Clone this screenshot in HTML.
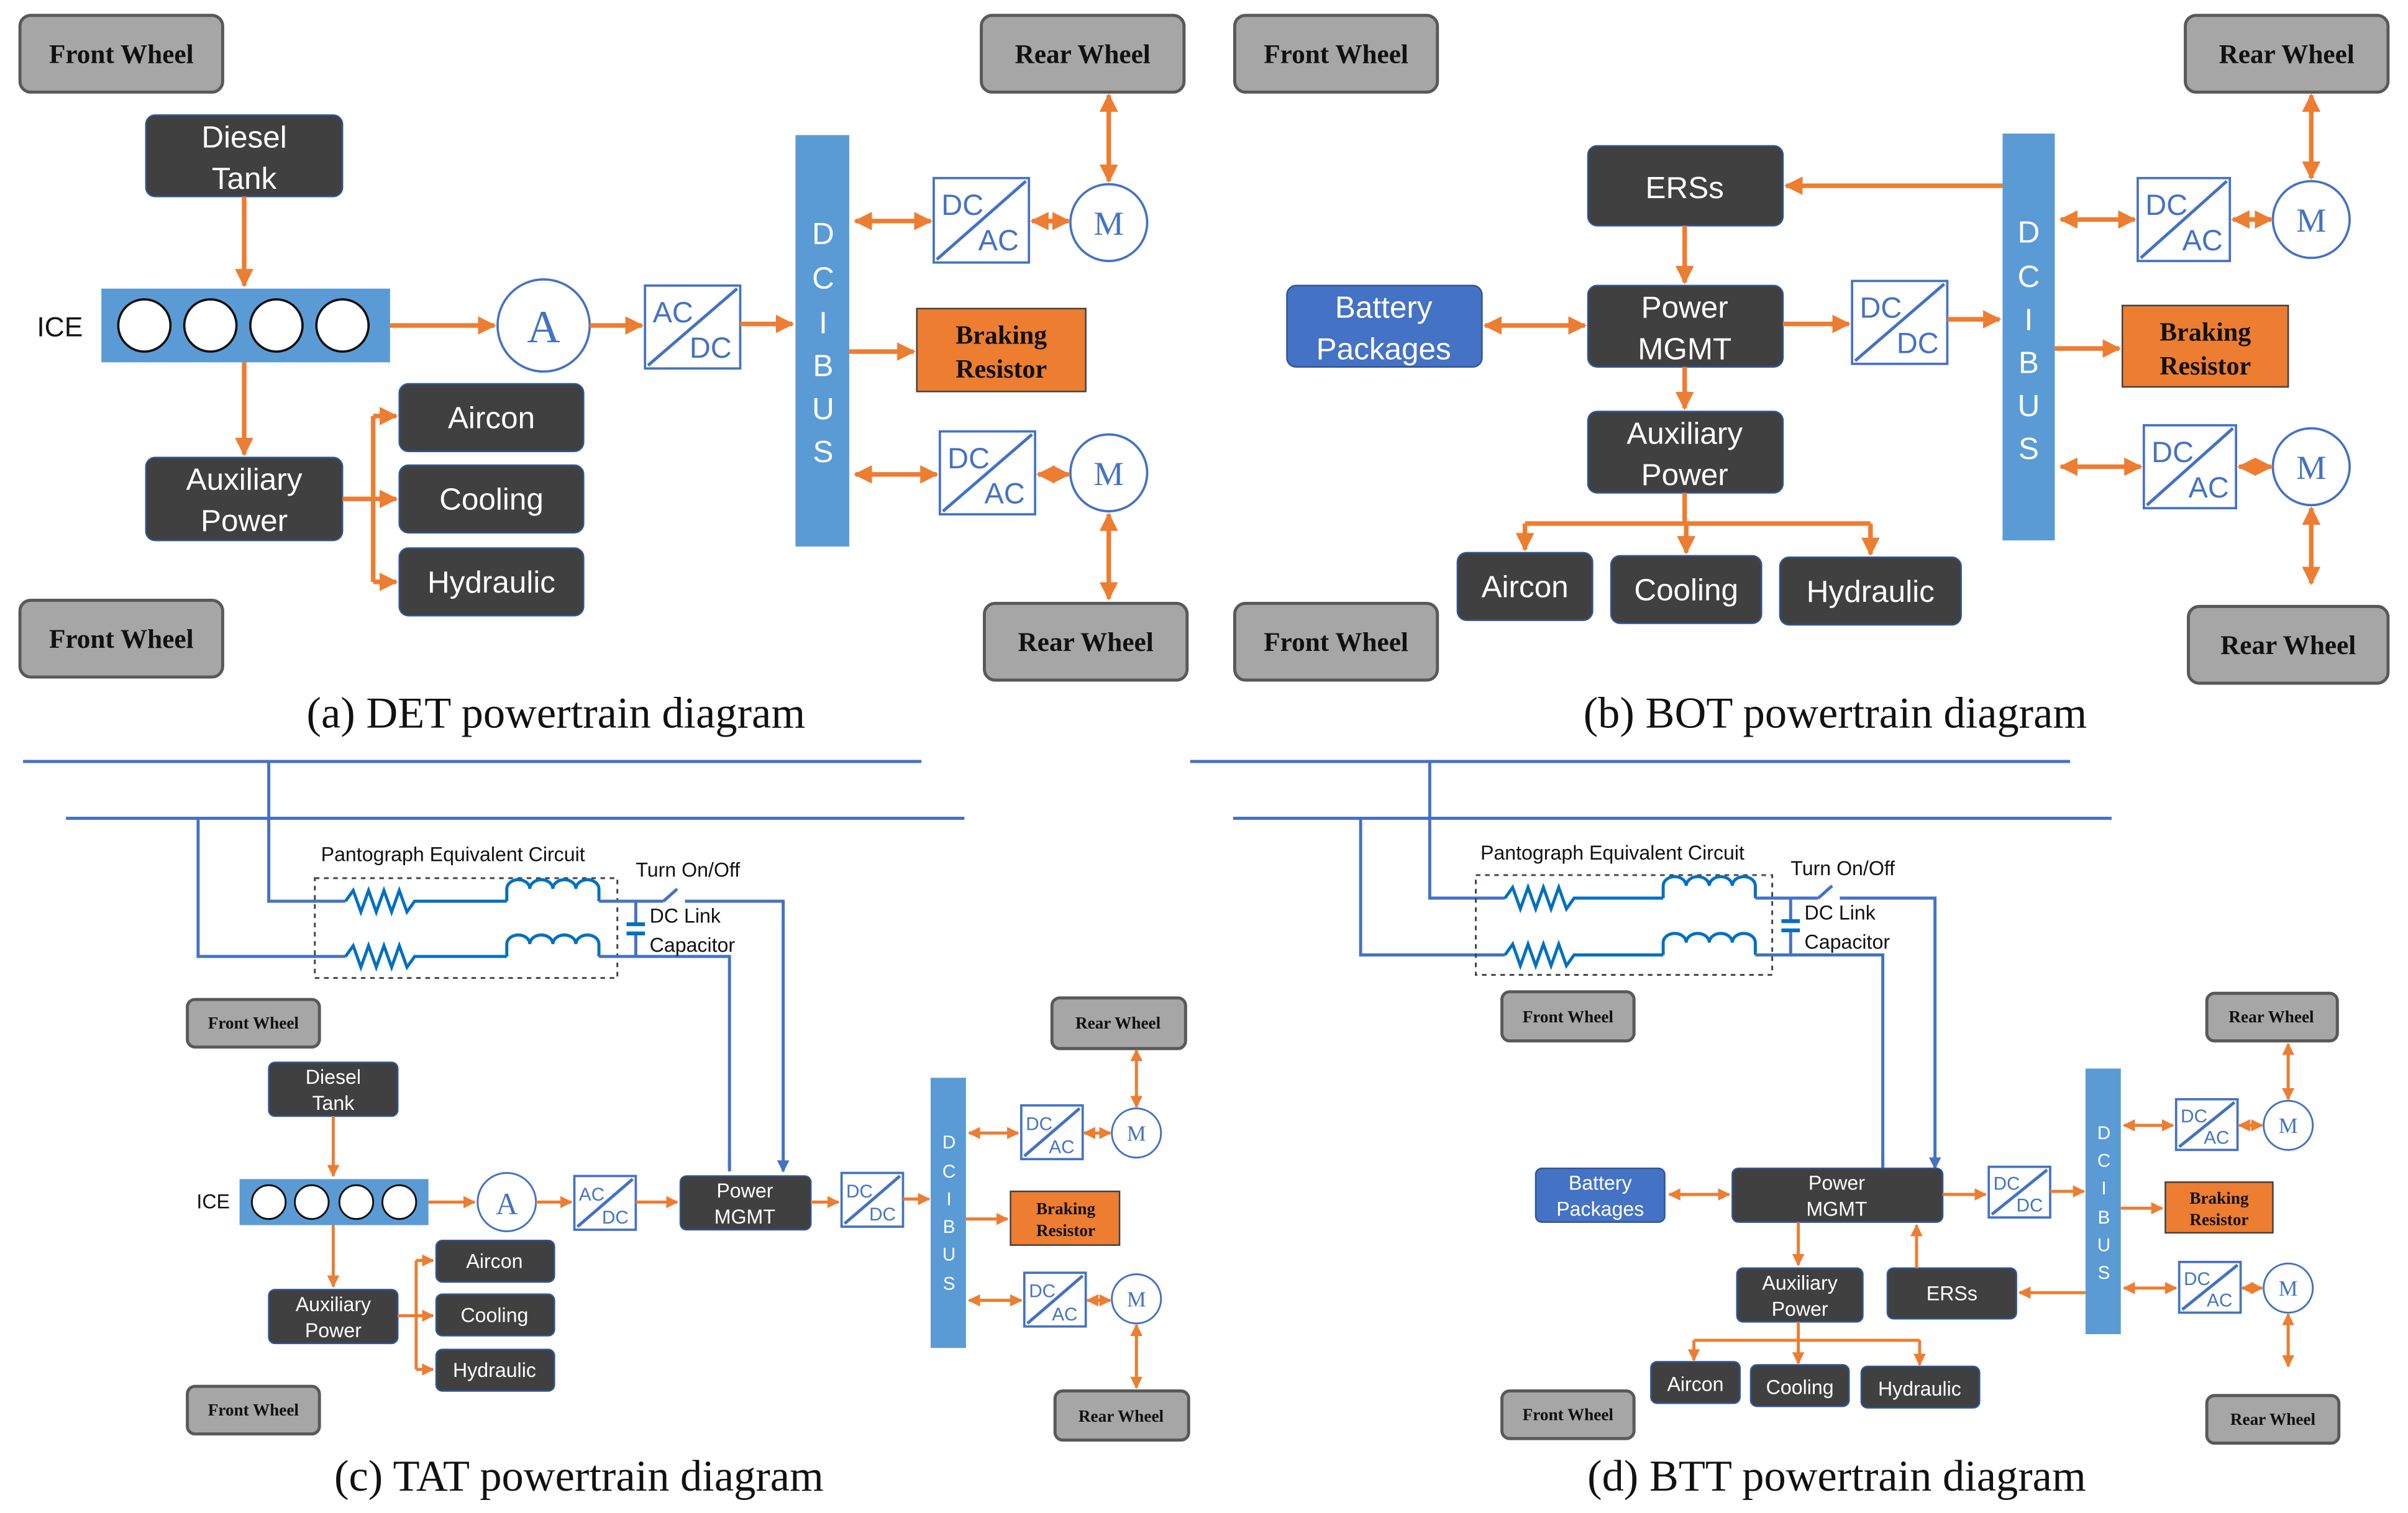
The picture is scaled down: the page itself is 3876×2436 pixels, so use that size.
<!DOCTYPE html>
<html><head><meta charset="utf-8">
<style>
html,body{margin:0;padding:0;background:#fff;}
svg{display:block;}
.gw{fill:#a6a6a6;stroke:#595959;stroke-width:2;}
.dk{fill:#404040;stroke:#2f5597;stroke-width:1;}
.bp{fill:#4472c4;stroke:#2f5597;stroke-width:1;}
.br{fill:#ed7d31;stroke:#404040;stroke-width:1;}
.bus{fill:#5b9bd5;}
.cv{fill:#fff;stroke:#4472c4;stroke-width:1.5;}
.or{stroke:#ed7d31;stroke-width:3;fill:none;}
.ors{stroke:#ed7d31;stroke-width:2;fill:none;}
.bl{stroke:#4472c4;stroke-width:2;fill:none;}
.el{stroke:#0070c0;stroke-width:2;fill:none;}
.wt{font-family:"Times New Roman","Liberation Serif",serif;font-weight:bold;fill:#111;text-anchor:middle;}
.st{font-family:"Liberation Sans",sans-serif;fill:#fff;text-anchor:middle;}
.ct{font-family:"Liberation Serif",serif;fill:#111;text-anchor:middle;}
.cvt{font-family:"Liberation Sans",sans-serif;fill:#4472c4;}
.lb{font-family:"Liberation Sans",sans-serif;fill:#111;}
</style></head><body>
<svg width="3876" height="2436" viewBox="0 0 1568 985.5" preserveAspectRatio="none" xmlns="http://www.w3.org/2000/svg">
<defs>
<marker id="a" viewBox="0 0 10 10" refX="9" refY="5" markerWidth="4" markerHeight="4" orient="auto-start-reverse"><path d="M0,0L10,5L0,10z" fill="#ed7d31"/></marker>
<marker id="s" viewBox="0 0 10 10" refX="9" refY="5" markerWidth="4" markerHeight="4" orient="auto-start-reverse"><path d="M0,0L10,5L0,10z" fill="#ed7d31"/></marker>
<marker id="bb" viewBox="0 0 10 10" refX="9" refY="5" markerWidth="4" markerHeight="4" orient="auto"><path d="M0,0L10,5L0,10z" fill="#4472c4"/></marker>
</defs>

<!-- ================= (a) ================= -->
<rect class="gw" x="13" y="10" width="132" height="50" rx="7"/><text class="wt" x="79" y="41" font-size="17.5">Front Wheel</text>
<rect class="gw" x="13" y="391" width="132" height="50" rx="7"/><text class="wt" x="79" y="422" font-size="17.5">Front Wheel</text>
<rect class="gw" x="639" y="10" width="132" height="50" rx="7"/><text class="wt" x="705" y="41" font-size="17.5">Rear Wheel</text>
<rect class="gw" x="641" y="393" width="132" height="50" rx="7"/><text class="wt" x="707" y="424" font-size="17.5">Rear Wheel</text>
<rect class="dk" x="95" y="75" width="128" height="53" rx="6"/><text class="st" x="159" y="96" font-size="20">Diesel</text><text class="st" x="159" y="123" font-size="20">Tank</text>
<text class="lb" x="24" y="219" font-size="18">ICE</text>
<rect fill="#5b9bd5" x="66" y="188" width="188" height="48"/>
<g fill="#fff" stroke="#111" stroke-width="1.5"><circle cx="94" cy="212" r="17"/><circle cx="137" cy="212" r="17"/><circle cx="180" cy="212" r="17"/><circle cx="223" cy="212" r="17"/></g>
<line class="or" x1="159" y1="128" x2="159" y2="186" marker-end="url(#a)"/>
<line class="or" x1="254" y1="212" x2="322" y2="212" marker-end="url(#a)"/>
<circle cx="354" cy="212" r="30" fill="#fff" stroke="#4472c4" stroke-width="1.5"/><text x="354" y="223" font-size="30" font-family="Liberation Serif,serif" fill="#4472c4" text-anchor="middle">A</text>
<line class="or" x1="384" y1="212" x2="418" y2="212" marker-end="url(#a)"/>
<rect class="cv" x="420" y="186" width="62" height="54"/><line class="bl" x1="422" y1="238" x2="480" y2="188" stroke-width="1.5"/><text class="cvt" x="425" y="210" font-size="19">AC</text><text class="cvt" x="449" y="233" font-size="19">DC</text>
<line class="or" x1="482" y1="211" x2="516" y2="211" marker-end="url(#a)"/>
<rect class="bus" x="518" y="88" width="35" height="268"/>
<g class="st" font-size="20"><text x="536" y="159">D</text><text x="536" y="188">C</text><text x="536" y="217">I</text><text x="536" y="245">B</text><text x="536" y="273">U</text><text x="536" y="301">S</text></g>
<rect class="br" x="597" y="201" width="110" height="54"/><text class="wt" x="652" y="224" font-size="17">Braking</text><text class="wt" x="652" y="246" font-size="17">Resistor</text>
<line class="or" x1="553" y1="229" x2="595" y2="229" marker-end="url(#a)"/>
<rect class="cv" x="608" y="116" width="62" height="55"/><line class="bl" x1="610" y1="169" x2="668" y2="118" stroke-width="1.5"/><text class="cvt" x="613" y="140" font-size="19">DC</text><text class="cvt" x="637" y="163" font-size="19">AC</text>
<line class="or" x1="557" y1="144" x2="606" y2="144" marker-start="url(#a)" marker-end="url(#a)"/>
<circle cx="722" cy="145" r="25" fill="#fff" stroke="#4472c4" stroke-width="1.5"/><text x="722" y="153" font-size="22" font-family="Liberation Serif,serif" fill="#4472c4" text-anchor="middle">M</text>
<line class="or" x1="672" y1="144" x2="696" y2="144" marker-start="url(#a)" marker-end="url(#a)"/>
<line class="or" x1="722" y1="62" x2="722" y2="118" marker-start="url(#a)" marker-end="url(#a)"/>
<rect class="cv" x="612" y="281" width="62" height="54"/><line class="bl" x1="614" y1="333" x2="672" y2="283" stroke-width="1.5"/><text class="cvt" x="617" y="305" font-size="19">DC</text><text class="cvt" x="641" y="328" font-size="19">AC</text>
<line class="or" x1="557" y1="309" x2="610" y2="309" marker-start="url(#a)" marker-end="url(#a)"/>
<circle cx="722" cy="308" r="25" fill="#fff" stroke="#4472c4" stroke-width="1.5"/><text x="722" y="316" font-size="22" font-family="Liberation Serif,serif" fill="#4472c4" text-anchor="middle">M</text>
<line class="or" x1="676" y1="309" x2="696" y2="309" marker-start="url(#a)" marker-end="url(#a)"/>
<line class="or" x1="722" y1="335" x2="722" y2="390" marker-start="url(#a)" marker-end="url(#a)"/>
<rect class="dk" x="95" y="298" width="128" height="54" rx="6"/><text class="st" x="159" y="319" font-size="20">Auxiliary</text><text class="st" x="159" y="346" font-size="20">Power</text>
<line class="or" x1="159" y1="236" x2="159" y2="296" marker-end="url(#a)"/>
<rect class="dk" x="260" y="250" width="120" height="44" rx="6"/><text class="st" x="320" y="279" font-size="20">Aircon</text>
<rect class="dk" x="260" y="303" width="120" height="44" rx="6"/><text class="st" x="320" y="332" font-size="20">Cooling</text>
<rect class="dk" x="260" y="357" width="120" height="44" rx="6"/><text class="st" x="320" y="386" font-size="20">Hydraulic</text>
<path class="or" d="M223,325H243M243,271V379"/>
<line class="or" x1="243" y1="271" x2="258" y2="271" marker-end="url(#a)"/>
<line class="or" x1="243" y1="325" x2="258" y2="325" marker-end="url(#a)"/>
<line class="or" x1="243" y1="379" x2="258" y2="379" marker-end="url(#a)"/>
<text class="ct" x="362" y="474" font-size="28.5">(a) DET powertrain diagram</text>

<!-- ================= (b) ================= -->
<rect class="gw" x="804" y="10" width="132" height="50" rx="7"/><text class="wt" x="870" y="41" font-size="17.5">Front Wheel</text>
<rect class="gw" x="804" y="393" width="132" height="50" rx="7"/><text class="wt" x="870" y="424" font-size="17.5">Front Wheel</text>
<rect class="gw" x="1423" y="10" width="132" height="50" rx="7"/><text class="wt" x="1489" y="41" font-size="17.5">Rear Wheel</text>
<rect class="gw" x="1425" y="395" width="130" height="50" rx="7"/><text class="wt" x="1490" y="426" font-size="17.5">Rear Wheel</text>
<rect class="dk" x="1034" y="95" width="127" height="52" rx="6"/><text class="st" x="1097" y="129" font-size="20">ERSs</text>
<rect class="dk" x="1034" y="186" width="127" height="53" rx="6"/><text class="st" x="1097" y="207" font-size="20">Power</text><text class="st" x="1097" y="234" font-size="20">MGMT</text>
<rect class="bp" x="838" y="186" width="127" height="53" rx="6"/><text class="st" x="901" y="207" font-size="20">Battery</text><text class="st" x="901" y="234" font-size="20">Packages</text>
<line class="or" x1="967" y1="212" x2="1032" y2="212" marker-start="url(#a)" marker-end="url(#a)"/>
<line class="or" x1="1097" y1="147" x2="1097" y2="184" marker-end="url(#a)"/>
<rect class="dk" x="1034" y="268" width="127" height="53" rx="6"/><text class="st" x="1097" y="289" font-size="20">Auxiliary</text><text class="st" x="1097" y="316" font-size="20">Power</text>
<line class="or" x1="1097" y1="239" x2="1097" y2="266" marker-end="url(#a)"/>
<rect class="cv" x="1206" y="183" width="62" height="54"/><line class="bl" x1="1208" y1="235" x2="1266" y2="185" stroke-width="1.5"/><text class="cvt" x="1211" y="207" font-size="19">DC</text><text class="cvt" x="1235" y="230" font-size="19">DC</text>
<line class="or" x1="1161" y1="211" x2="1204" y2="211" marker-end="url(#a)"/>
<line class="or" x1="1268" y1="208" x2="1302" y2="208" marker-end="url(#a)"/>
<rect class="bus" x="1304" y="87" width="34" height="265"/>
<g class="st" font-size="20"><text x="1321" y="158">D</text><text x="1321" y="187">C</text><text x="1321" y="215">I</text><text x="1321" y="243">B</text><text x="1321" y="271">U</text><text x="1321" y="299">S</text></g>
<line class="or" x1="1304" y1="121" x2="1163" y2="121" marker-end="url(#a)"/>
<rect class="br" x="1382" y="199" width="108" height="53"/><text class="wt" x="1436" y="222" font-size="17">Braking</text><text class="wt" x="1436" y="244" font-size="17">Resistor</text>
<line class="or" x1="1338" y1="227" x2="1380" y2="227" marker-end="url(#a)"/>
<rect class="cv" x="1392" y="116" width="60" height="54"/><line class="bl" x1="1394" y1="168" x2="1450" y2="118" stroke-width="1.5"/><text class="cvt" x="1397" y="140" font-size="19">DC</text><text class="cvt" x="1421" y="163" font-size="19">AC</text>
<line class="or" x1="1342" y1="143" x2="1390" y2="143" marker-start="url(#a)" marker-end="url(#a)"/>
<circle cx="1505" cy="143" r="25" fill="#fff" stroke="#4472c4" stroke-width="1.5"/><text x="1505" y="151" font-size="22" font-family="Liberation Serif,serif" fill="#4472c4" text-anchor="middle">M</text>
<line class="or" x1="1454" y1="143" x2="1479" y2="143" marker-start="url(#a)" marker-end="url(#a)"/>
<line class="or" x1="1505" y1="62" x2="1505" y2="116" marker-start="url(#a)" marker-end="url(#a)"/>
<rect class="cv" x="1396" y="277" width="60" height="54"/><line class="bl" x1="1398" y1="329" x2="1454" y2="279" stroke-width="1.5"/><text class="cvt" x="1401" y="301" font-size="19">DC</text><text class="cvt" x="1425" y="324" font-size="19">AC</text>
<line class="or" x1="1342" y1="304" x2="1394" y2="304" marker-start="url(#a)" marker-end="url(#a)"/>
<circle cx="1505" cy="304" r="25" fill="#fff" stroke="#4472c4" stroke-width="1.5"/><text x="1505" y="312" font-size="22" font-family="Liberation Serif,serif" fill="#4472c4" text-anchor="middle">M</text>
<line class="or" x1="1458" y1="304" x2="1479" y2="304" marker-start="url(#a)" marker-end="url(#a)"/>
<line class="or" x1="1505" y1="331" x2="1505" y2="380" marker-start="url(#a)" marker-end="url(#a)"/>
<rect class="dk" x="949" y="360" width="88" height="44" rx="6"/><text class="st" x="993" y="389" font-size="20">Aircon</text>
<rect class="dk" x="1049" y="362" width="98" height="44" rx="6"/><text class="st" x="1098" y="391" font-size="20">Cooling</text>
<rect class="dk" x="1159" y="363" width="118" height="44" rx="6"/><text class="st" x="1218" y="392" font-size="20">Hydraulic</text>
<path class="or" d="M1097,321V341M993,341H1218"/>
<line class="or" x1="993" y1="341" x2="993" y2="358" marker-end="url(#a)"/>
<line class="or" x1="1098" y1="341" x2="1098" y2="360" marker-end="url(#a)"/>
<line class="or" x1="1218" y1="341" x2="1218" y2="361" marker-end="url(#a)"/>
<text class="ct" x="1195" y="474" font-size="28.5">(b) BOT powertrain diagram</text>

<!-- ================= (c) ================= -->
<path class="bl" d="M15,496H600M43,533H628"/>
<path class="bl" d="M175,496V587H225M129,533V623H225"/>
<rect x="205" y="572" width="197" height="65" fill="none" stroke="#444" stroke-width="1.2" stroke-dasharray="3,3"/>
<path class="el" d="M225,587l5,-7l5,14l5,-14l5,14l5,-14l5,14l5,-14l5,14l5,-7H330"/>
<path class="el" d="M225,623l5,-7l5,14l5,-14l5,14l5,-14l5,14l5,-14l5,14l5,-7H330"/>
<path class="el" stroke-width="3" d="M330,587v-8a7.5,6 0 0 1 15,0a7.5,6 0 0 1 15,0a7.5,6 0 0 1 15,0a7.5,6 0 0 1 15,0v8"/>
<path class="el" stroke-width="3" d="M330,623v-8a7.5,6 0 0 1 15,0a7.5,6 0 0 1 15,0a7.5,6 0 0 1 15,0a7.5,6 0 0 1 15,0v8"/>
<path class="bl" d="M390,587H432M446,587H510V761M390,623H475V761"/>
<path class="bl" d="M432,587L441,579"/>
<path class="bl" d="M414,587V602M414,608V623"/>
<path d="M408,602H420M408,608H420" stroke="#0070c0" stroke-width="2.5"/>
<path d="M475,755v8M510,755v8" stroke="#4472c4" stroke-width="2" marker-end="url(#bb)"/>
<text class="lb" x="209" y="561" font-size="13">Pantograph Equivalent Circuit</text>
<text class="lb" x="414" y="571" font-size="13">Turn On/Off</text>
<text class="lb" x="423" y="601" font-size="13">DC Link</text>
<text class="lb" x="423" y="620" font-size="13">Capacitor</text>
<rect class="gw" x="122" y="651" width="86" height="31" rx="5" stroke-width="1.5"/><text class="wt" x="165" y="670" font-size="11">Front Wheel</text>
<rect class="gw" x="122" y="903" width="86" height="31" rx="5" stroke-width="1.5"/><text class="wt" x="165" y="922" font-size="11">Front Wheel</text>
<rect class="gw" x="685" y="650" width="87" height="33" rx="5" stroke-width="1.5"/><text class="wt" x="728" y="670" font-size="11">Rear Wheel</text>
<rect class="gw" x="687" y="906" width="87" height="32" rx="5" stroke-width="1.5"/><text class="wt" x="730" y="926" font-size="11">Rear Wheel</text>
<rect class="dk" x="175" y="692" width="84" height="35" rx="4"/><text class="st" x="217" y="706" font-size="13">Diesel</text><text class="st" x="217" y="723" font-size="13">Tank</text>
<text class="lb" x="128" y="787" font-size="13">ICE</text>
<rect fill="#5b9bd5" x="156" y="768" width="123" height="30"/>
<g fill="#fff" stroke="#111" stroke-width="1.2"><circle cx="175" cy="783" r="11"/><circle cx="203" cy="783" r="11"/><circle cx="232" cy="783" r="11"/><circle cx="260" cy="783" r="11"/></g>
<line class="ors" x1="217" y1="727" x2="217" y2="766" marker-end="url(#s)"/>
<line class="ors" x1="279" y1="783" x2="309" y2="783" marker-end="url(#s)"/>
<circle cx="330" cy="783" r="19" fill="#fff" stroke="#4472c4" stroke-width="1.2"/><text x="330" y="791" font-size="20" font-family="Liberation Serif,serif" fill="#4472c4" text-anchor="middle">A</text>
<line class="ors" x1="349" y1="783" x2="372" y2="783" marker-end="url(#s)"/>
<rect class="cv" x="374" y="766" width="40" height="35" stroke-width="1.2"/><line class="bl" x1="376" y1="799" x2="412" y2="768" stroke-width="1"/><text class="cvt" x="377" y="782" font-size="12">AC</text><text class="cvt" x="392" y="797" font-size="12">DC</text>
<line class="ors" x1="414" y1="783" x2="441" y2="783" marker-end="url(#s)"/>
<rect class="dk" x="443" y="766" width="85" height="35" rx="4"/><text class="st" x="485" y="780" font-size="13">Power</text><text class="st" x="485" y="797" font-size="13">MGMT</text>
<line class="ors" x1="528" y1="783" x2="546" y2="783" marker-end="url(#s)"/>
<rect class="cv" x="548" y="764" width="40" height="35" stroke-width="1.2"/><line class="bl" x1="550" y1="797" x2="586" y2="766" stroke-width="1"/><text class="cvt" x="551" y="780" font-size="12">DC</text><text class="cvt" x="566" y="795" font-size="12">DC</text>
<line class="ors" x1="588" y1="781" x2="605" y2="781" marker-end="url(#s)"/>
<rect class="bus" x="606" y="702" width="23" height="176"/>
<g class="st" font-size="12"><text x="618" y="748">D</text><text x="618" y="767">C</text><text x="618" y="785">I</text><text x="618" y="803">B</text><text x="618" y="821">U</text><text x="618" y="840">S</text></g>
<rect class="br" x="658" y="776" width="71" height="35"/><text class="wt" x="694" y="791" font-size="11">Braking</text><text class="wt" x="694" y="805" font-size="11">Resistor</text>
<line class="ors" x1="629" y1="794" x2="656" y2="794" marker-end="url(#s)"/>
<rect class="cv" x="665" y="720" width="40" height="35" stroke-width="1.2"/><line class="bl" x1="667" y1="753" x2="703" y2="722" stroke-width="1"/><text class="cvt" x="668" y="736" font-size="12">DC</text><text class="cvt" x="683" y="751" font-size="12">AC</text>
<line class="ors" x1="631" y1="738" x2="663" y2="738" marker-start="url(#s)" marker-end="url(#s)"/>
<circle cx="740" cy="738" r="16" fill="#fff" stroke="#4472c4" stroke-width="1.2"/><text x="740" y="743" font-size="14" font-family="Liberation Serif,serif" fill="#4472c4" text-anchor="middle">M</text>
<line class="ors" x1="706" y1="738" x2="723" y2="738" marker-start="url(#s)" marker-end="url(#s)"/>
<line class="ors" x1="740" y1="684" x2="740" y2="721" marker-start="url(#s)" marker-end="url(#s)"/>
<rect class="cv" x="667" y="829" width="40" height="35" stroke-width="1.2"/><line class="bl" x1="669" y1="862" x2="705" y2="831" stroke-width="1"/><text class="cvt" x="670" y="845" font-size="12">DC</text><text class="cvt" x="685" y="860" font-size="12">AC</text>
<line class="ors" x1="631" y1="847" x2="665" y2="847" marker-start="url(#s)" marker-end="url(#s)"/>
<circle cx="740" cy="846" r="16" fill="#fff" stroke="#4472c4" stroke-width="1.2"/><text x="740" y="851" font-size="14" font-family="Liberation Serif,serif" fill="#4472c4" text-anchor="middle">M</text>
<line class="ors" x1="708" y1="847" x2="723" y2="847" marker-start="url(#s)" marker-end="url(#s)"/>
<line class="ors" x1="740" y1="863" x2="740" y2="904" marker-start="url(#s)" marker-end="url(#s)"/>
<rect class="dk" x="175" y="840" width="84" height="35" rx="4"/><text class="st" x="217" y="854" font-size="13">Auxiliary</text><text class="st" x="217" y="871" font-size="13">Power</text>
<line class="ors" x1="217" y1="798" x2="217" y2="838" marker-end="url(#s)"/>
<rect class="dk" x="284" y="808" width="77" height="27" rx="4"/><text class="st" x="322" y="826" font-size="13">Aircon</text>
<rect class="dk" x="284" y="843" width="77" height="27" rx="4"/><text class="st" x="322" y="861" font-size="13">Cooling</text>
<rect class="dk" x="284" y="879" width="77" height="27" rx="4"/><text class="st" x="322" y="897" font-size="13">Hydraulic</text>
<path class="ors" d="M259,857H271M271,821V892"/>
<line class="ors" x1="271" y1="821" x2="282" y2="821" marker-end="url(#s)"/>
<line class="ors" x1="271" y1="857" x2="282" y2="857" marker-end="url(#s)"/>
<line class="ors" x1="271" y1="892" x2="282" y2="892" marker-end="url(#s)"/>
<text class="ct" x="377" y="971" font-size="28.5">(c) TAT powertrain diagram</text>

<!-- ================= (d) ================= -->
<path class="bl" d="M775,496H1348M803,533H1375"/>
<path class="bl" d="M931,496V585H980M886,533V622H980"/>
<rect x="961" y="570" width="193" height="65" fill="none" stroke="#444" stroke-width="1.2" stroke-dasharray="3,3"/>
<path class="el" d="M980,585l5,-7l5,14l5,-14l5,14l5,-14l5,14l5,-14l5,14l5,-7H1083"/>
<path class="el" d="M980,622l5,-7l5,14l5,-14l5,14l5,-14l5,14l5,-14l5,14l5,-7H1083"/>
<path class="el" stroke-width="3" d="M1083,585v-8a7.5,6 0 0 1 15,0a7.5,6 0 0 1 15,0a7.5,6 0 0 1 15,0a7.5,6 0 0 1 15,0v8"/>
<path class="el" stroke-width="3" d="M1083,622v-8a7.5,6 0 0 1 15,0a7.5,6 0 0 1 15,0a7.5,6 0 0 1 15,0a7.5,6 0 0 1 15,0v8"/>
<path class="bl" d="M1143,585H1184M1198,585H1260V759M1143,622H1226V759"/>
<path class="bl" d="M1184,585L1193,577"/>
<path class="bl" d="M1166,585V600M1166,606V622"/>
<path d="M1160,600H1172M1160,606H1172" stroke="#0070c0" stroke-width="2.5"/>
<path d="M1226,753v8M1260,753v8" stroke="#4472c4" stroke-width="2" marker-end="url(#bb)"/>
<text class="lb" x="964" y="560" font-size="13">Pantograph Equivalent Circuit</text>
<text class="lb" x="1166" y="570" font-size="13">Turn On/Off</text>
<text class="lb" x="1175" y="599" font-size="13">DC Link</text>
<text class="lb" x="1175" y="618" font-size="13">Capacitor</text>
<rect class="gw" x="978" y="646" width="86" height="32" rx="5" stroke-width="1.5"/><text class="wt" x="1021" y="666" font-size="11">Front Wheel</text>
<rect class="gw" x="978" y="906" width="86" height="31" rx="5" stroke-width="1.5"/><text class="wt" x="1021" y="925" font-size="11">Front Wheel</text>
<rect class="gw" x="1437" y="647" width="85" height="31" rx="5" stroke-width="1.5"/><text class="wt" x="1479" y="666" font-size="11">Rear Wheel</text>
<rect class="gw" x="1437" y="909" width="86" height="31" rx="5" stroke-width="1.5"/><text class="wt" x="1480" y="928" font-size="11">Rear Wheel</text>
<rect class="bp" x="1000" y="761" width="84" height="35" rx="4"/><text class="st" x="1042" y="775" font-size="13">Battery</text><text class="st" x="1042" y="792" font-size="13">Packages</text>
<line class="ors" x1="1087" y1="778" x2="1126" y2="778" marker-start="url(#s)" marker-end="url(#s)"/>
<rect class="dk" x="1128" y="761" width="137" height="35" rx="4"/><text class="st" x="1196" y="775" font-size="13">Power</text><text class="st" x="1196" y="792" font-size="13">MGMT</text>
<line class="ors" x1="1265" y1="778" x2="1293" y2="778" marker-end="url(#s)"/>
<rect class="cv" x="1295" y="760" width="40" height="33" stroke-width="1.2"/><line class="bl" x1="1297" y1="791" x2="1333" y2="762" stroke-width="1"/><text class="cvt" x="1298" y="775" font-size="12">DC</text><text class="cvt" x="1313" y="789" font-size="12">DC</text>
<line class="ors" x1="1335" y1="776" x2="1357" y2="776" marker-end="url(#s)"/>
<rect class="bus" x="1358" y="696" width="23" height="173"/>
<g class="st" font-size="12"><text x="1370" y="742">D</text><text x="1370" y="760">C</text><text x="1370" y="778">I</text><text x="1370" y="797">B</text><text x="1370" y="815">U</text><text x="1370" y="833">S</text></g>
<rect class="br" x="1410" y="770" width="70" height="33"/><text class="wt" x="1445" y="784" font-size="11">Braking</text><text class="wt" x="1445" y="798" font-size="11">Resistor</text>
<line class="ors" x1="1381" y1="787" x2="1408" y2="787" marker-end="url(#s)"/>
<rect class="cv" x="1417" y="716" width="40" height="33" stroke-width="1.2"/><line class="bl" x1="1419" y1="747" x2="1455" y2="718" stroke-width="1"/><text class="cvt" x="1420" y="731" font-size="12">DC</text><text class="cvt" x="1435" y="745" font-size="12">AC</text>
<line class="ors" x1="1383" y1="733" x2="1415" y2="733" marker-start="url(#s)" marker-end="url(#s)"/>
<circle cx="1490" cy="733" r="16" fill="#fff" stroke="#4472c4" stroke-width="1.2"/><text x="1490" y="738" font-size="14" font-family="Liberation Serif,serif" fill="#4472c4" text-anchor="middle">M</text>
<line class="ors" x1="1458" y1="733" x2="1473" y2="733" marker-start="url(#s)" marker-end="url(#s)"/>
<line class="ors" x1="1490" y1="680" x2="1490" y2="716" marker-start="url(#s)" marker-end="url(#s)"/>
<rect class="cv" x="1419" y="822" width="40" height="33" stroke-width="1.2"/><line class="bl" x1="1421" y1="853" x2="1457" y2="824" stroke-width="1"/><text class="cvt" x="1422" y="837" font-size="12">DC</text><text class="cvt" x="1437" y="851" font-size="12">AC</text>
<line class="ors" x1="1383" y1="839" x2="1417" y2="839" marker-start="url(#s)" marker-end="url(#s)"/>
<circle cx="1490" cy="839" r="16" fill="#fff" stroke="#4472c4" stroke-width="1.2"/><text x="1490" y="844" font-size="14" font-family="Liberation Serif,serif" fill="#4472c4" text-anchor="middle">M</text>
<line class="ors" x1="1460" y1="839" x2="1473" y2="839" marker-start="url(#s)" marker-end="url(#s)"/>
<line class="ors" x1="1490" y1="856" x2="1490" y2="890" marker-start="url(#s)" marker-end="url(#s)"/>
<rect class="dk" x="1229" y="826" width="84" height="33" rx="4"/><text class="st" x="1271" y="847" font-size="13">ERSs</text>
<line class="ors" x1="1358" y1="842" x2="1315" y2="842" marker-end="url(#s)"/>
<line class="ors" x1="1248" y1="826" x2="1248" y2="798" marker-end="url(#s)"/>
<rect class="dk" x="1131" y="826" width="82" height="35" rx="4"/><text class="st" x="1172" y="840" font-size="13">Auxiliary</text><text class="st" x="1172" y="857" font-size="13">Power</text>
<line class="ors" x1="1171" y1="796" x2="1171" y2="824" marker-end="url(#s)"/>
<rect class="dk" x="1075" y="887" width="58" height="27" rx="4"/><text class="st" x="1104" y="906" font-size="13">Aircon</text>
<rect class="dk" x="1140" y="889" width="64" height="27" rx="4"/><text class="st" x="1172" y="908" font-size="13">Cooling</text>
<rect class="dk" x="1212" y="890" width="77" height="27" rx="4"/><text class="st" x="1250" y="909" font-size="13">Hydraulic</text>
<path class="ors" d="M1171,861V873M1103,873H1250"/>
<line class="ors" x1="1103" y1="873" x2="1103" y2="886" marker-end="url(#s)"/>
<line class="ors" x1="1171" y1="873" x2="1171" y2="888" marker-end="url(#s)"/>
<line class="ors" x1="1250" y1="873" x2="1250" y2="889" marker-end="url(#s)"/>
<text class="ct" x="1196" y="971" font-size="28.5">(d) BTT powertrain diagram</text>
</svg>
</body></html>
